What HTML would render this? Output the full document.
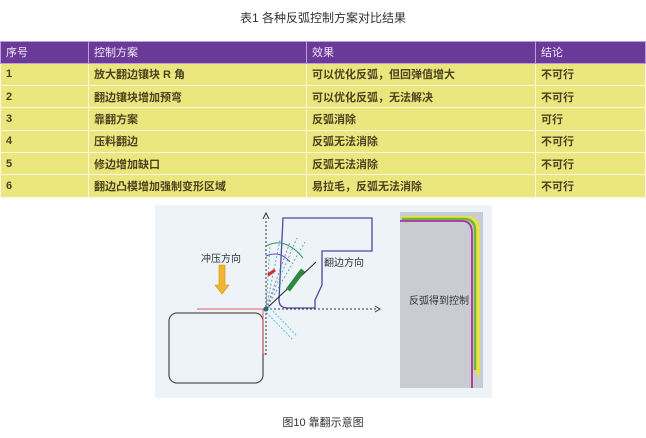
<!DOCTYPE html>
<html><head><meta charset="utf-8"><style>
body{margin:0;width:646px;height:438px;background:#fff;position:relative;overflow:hidden;font-family:"Liberation Sans","Noto Sans CJK SC",sans-serif;}
.t{position:absolute;white-space:nowrap}
table{position:absolute;left:0;top:41px;width:646px;border-collapse:collapse;font-size:11px;font-weight:bold}
td{height:21.4px;padding:0 0 0 5px;border:1.5px solid #fbf9e0;background:#ebe67d;color:#4a4320}
tr.h td{background:#6b3a98;color:#f0e8f8;border-color:#b9a0d8;font-weight:normal;height:20.5px}
</style></head><body>
<div class="t" style="left:0;width:646px;text-align:center;top:9px;font-size:12px;color:#333">表1 各种反弧控制方案对比结果</div>
<table>
<tr class="h"><td style="width:82px">序号</td><td style="width:212px">控制方案</td><td style="width:223px">效果</td><td>结论</td></tr>
<tr><td>1</td><td>放大翻边镶块 R 角</td><td>可以优化反弧，但回弹值增大</td><td>不可行</td></tr>
<tr><td>2</td><td>翻边镶块增加预弯</td><td>可以优化反弧，无法解决</td><td>不可行</td></tr>
<tr><td>3</td><td>靠翻方案</td><td>反弧消除</td><td>可行</td></tr>
<tr><td>4</td><td>压料翻边</td><td>反弧无法消除</td><td>不可行</td></tr>
<tr><td>5</td><td>修边增加缺口</td><td>反弧无法消除</td><td>不可行</td></tr>
<tr><td>6</td><td>翻边凸模增加强制变形区域</td><td>易拉毛，反弧无法消除</td><td>不可行</td></tr>
</table>
<svg style="position:absolute;left:0;top:0" width="646" height="438">
<rect x="155" y="205" width="337" height="193" fill="#eef3f8"/>
<rect x="400" y="212" width="83" height="176" fill="#c9ccd2"/>
<path d="M402 218 H467 Q478 218 478 230 V375" fill="none" stroke="#e6e04a" stroke-width="4"/>
<path d="M402 219 H464 Q475 219 475 231 V370" fill="none" stroke="#6cb83a" stroke-width="2.5"/>
<path d="M400 221 H462 Q472 221 472 233 V388" fill="none" stroke="#b0309a" stroke-width="1.8"/>
<text x="409" y="304" font-size="10" fill="#333" font-family="Liberation Sans,Noto Sans CJK SC,sans-serif">反弧得到控制</text>
<rect x="169" y="313" width="94" height="70" rx="8" fill="none" stroke="#555" stroke-width="1.3"/>
<path d="M197 309 H263 V354 H266" fill="none" stroke="#e06060" stroke-width="1"/>
<path d="M266 355 V218" stroke="#333" stroke-dasharray="2,2"/>
<path d="M263 219 L266 213 L269 219" fill="none" stroke="#333"/>
<path d="M266 309 H378" stroke="#333" stroke-dasharray="2,2"/>
<path d="M375 306 L380 309 L375 312" fill="none" stroke="#333"/>
<path d="M283 218 H372 V251 H322 V285 L315 300 V308 H288 Q279 308 279 300 Z" fill="none" stroke="#4a4aa0" stroke-width="1.3"/>
<path d="M266 309 L316 262" stroke="#222"/>
<path d="M266 309 L297 238 M266 309 L305 242 M266 309 L280 240 M266 309 L270 245" stroke="#6aa" stroke-dasharray="2,2"/>
<path d="M266 309 L290 242" stroke="#8a7ad0" stroke-dasharray="2,2"/>
<path d="M266 246 Q285 236 303 258" fill="none" stroke="#2a9a5a"/>
<path d="M266 256 Q280 250 290 262" fill="none" stroke="#5050c0"/>
<path d="M268 275 L275 270" stroke="#d03030" stroke-width="3"/>
<path d="M303 270 L288 290" stroke="#2a8a40" stroke-width="5"/>
<path d="M264 310 L293 340 M268 306 L297 336" stroke="#5ac0e0" stroke-dasharray="2,1.5"/>
<circle cx="266" cy="309" r="2.5" fill="#2a6a6a"/>
<path d="M219 265 h6 v20 h4 l-7 9 l-7 -9 h4 z" fill="#f1b530" stroke="#d49010" stroke-width=".6"/>
<text x="201" y="262" font-size="10" fill="#333" font-family="Liberation Sans,Noto Sans CJK SC,sans-serif">冲压方向</text>
<text x="324" y="266" font-size="10" fill="#333" font-family="Liberation Sans,Noto Sans CJK SC,sans-serif">翻边方向</text>
</svg>
<div class="t" style="left:0;width:646px;text-align:center;top:414px;font-size:11px;color:#333">图10 靠翻示意图</div>
</body></html>
